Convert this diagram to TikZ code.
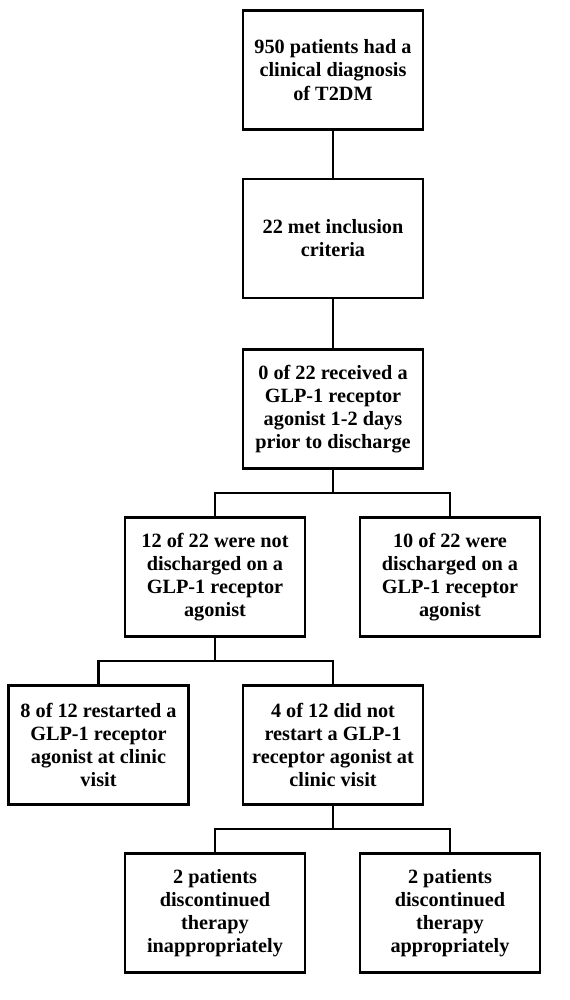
\documentclass[tikz,border=0pt]{standalone}
\usepackage{fontspec}
\setmainfont{Liberation Serif}
\begin{document}
\begin{tikzpicture}[x=0.75pt,y=-0.75pt,
  box/.style={draw=black,line width=1.6pt,minimum width=180*0.75pt,minimum height=119*0.75pt,
    align=center,inner sep=2pt,font=\fontsize{15.2}{17.3}\selectfont\bfseries},
  conn/.style={line width=1.6pt}]
\useasboundingbox (0,0) rectangle (570,1000);
\node[box] (b1) at (333,70) {950 patients had a\\clinical diagnosis\\of T2DM};
\node[box] (b2) at (333,238.5) {22 met inclusion\\criteria};
\node[box] (b3) at (333,409) {0 of 22 received a\\GLP-1 receptor\\agonist 1-2 days\\prior to discharge};
\node[box] (b4) at (215,577) {12 of 22 were not\\discharged on a\\GLP-1 receptor\\agonist};
\node[box] (b5) at (450,577) {10 of 22 were\\discharged on a\\GLP-1 receptor\\agonist};
\node[box] (b6) at (98.5,745) {8 of 12 restarted a\\GLP-1 receptor\\agonist at clinic\\visit};
\node[box] (b7) at (333,745) {4 of 12 did not\\restart a GLP-1\\receptor agonist at\\clinic visit};
\node[box] (b8) at (215,913) {2 patients\\discontinued\\therapy\\inappropriately};
\node[box] (b9) at (450,913) {2 patients\\discontinued\\therapy\\appropriately};
\coordinate (j1) at (333,493);
\coordinate (j2) at (215,661);
\coordinate (j3) at (333,829);
\draw[conn] (b1.south) -- (b2.north);
\draw[conn] (b2.south) -- (b3.north);
\draw[conn] (b3.south) -- (j1);
\draw[conn] (b4.north) |- (j1) -| (b5.north);
\draw[conn] (b4.south) -- (j2);
\draw[conn] (b6.north) |- (j2) -| (b7.north);
\draw[conn] (b7.south) -- (j3);
\draw[conn] (b8.north) |- (j3) -| (b9.north);
\end{tikzpicture}
\end{document}
